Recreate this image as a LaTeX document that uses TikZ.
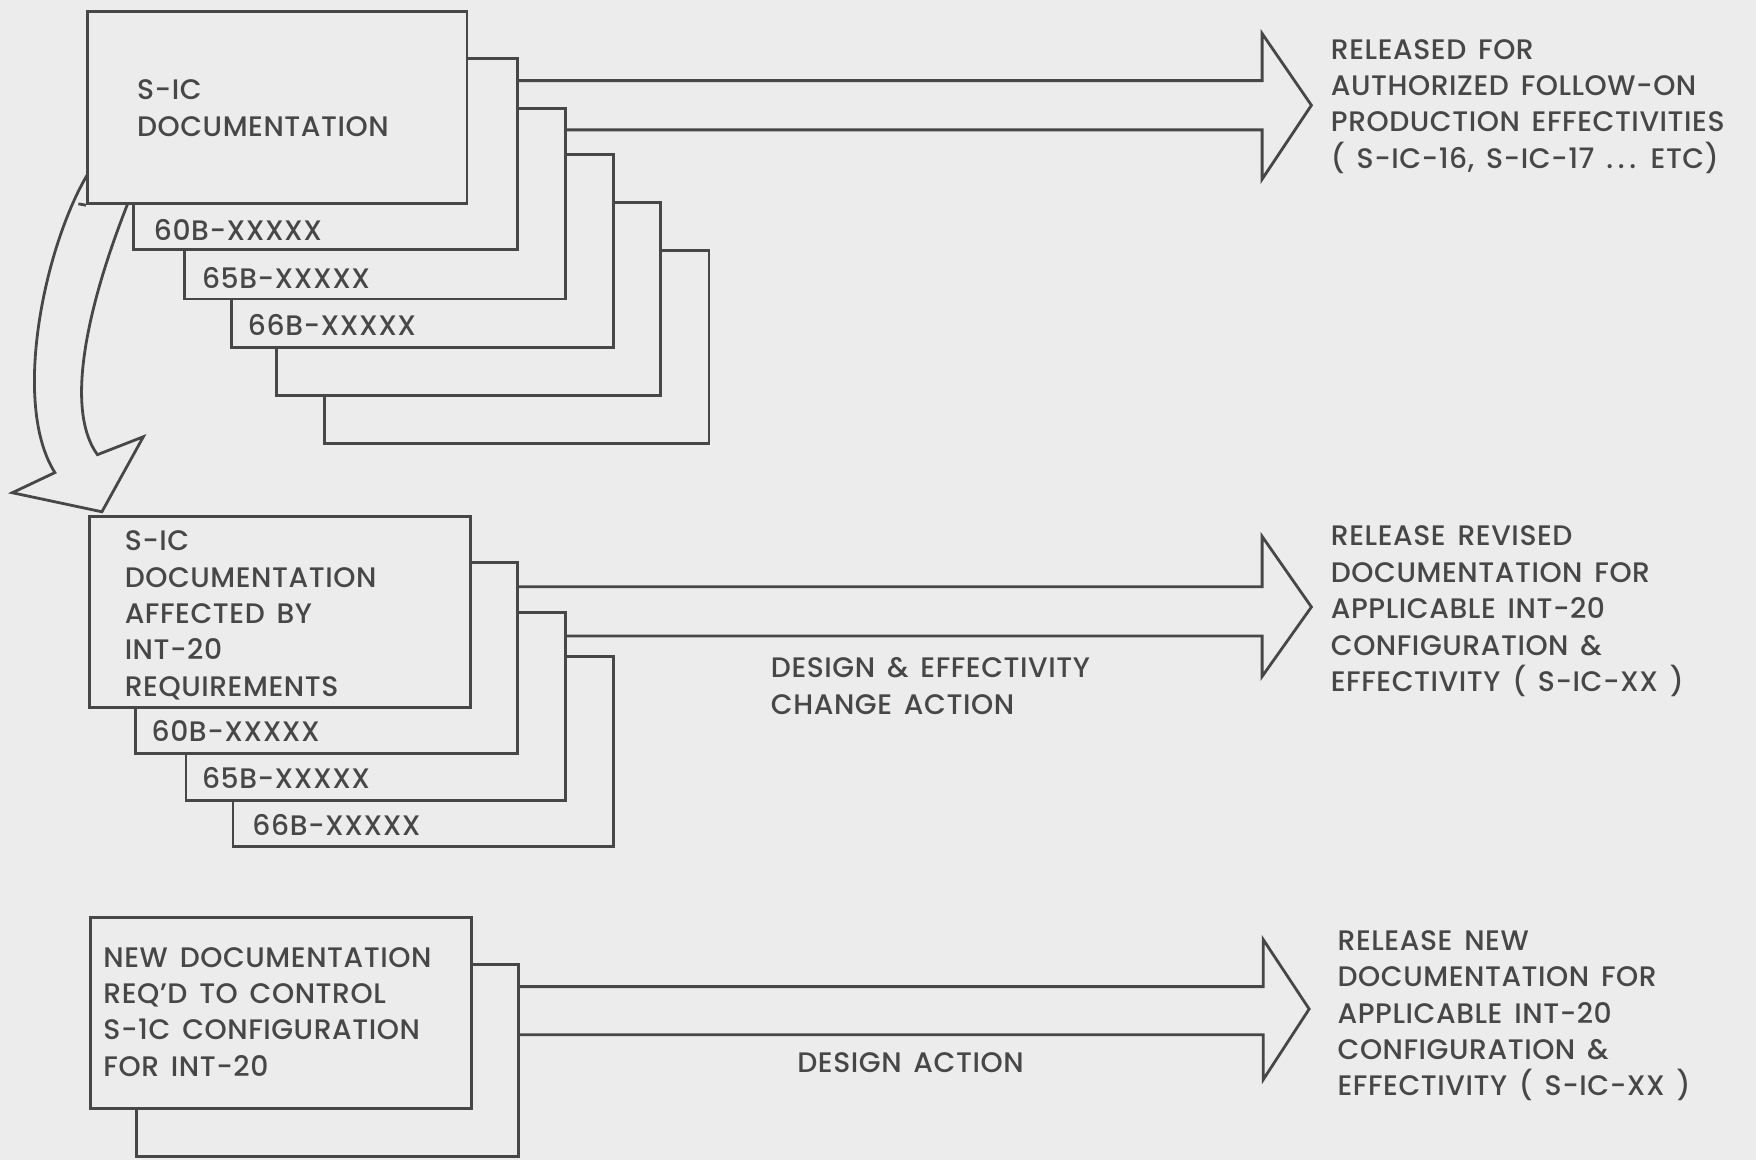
\documentclass[tikz,border=0pt]{standalone}
\usepackage{fontspec}
\setmainfont{Poppins}[UprightFont={* Medium}, LetterSpace=2, WordSpace=1.5]
\usetikzlibrary{fit}
\definecolor{paper}{HTML}{ECECEC}
\definecolor{ink}{HTML}{474747}
\newcommand\lettering{\fontsize{12.6}{16.25}\selectfont}
\begin{document}
\begin{tikzpicture}[x=0.5pt,y=-0.5pt,
  sheet/.style={draw=ink, fill=paper, line width=1.25pt, inner sep=0pt, rectangle},
  outline/.style={draw=ink, line width=1.25pt, line join=miter},
  lbl/.style={text=ink, inner sep=0pt, anchor=west, font=\lettering},
  blk/.style={lbl, align=left},
]
\fill[paper] (0,0) rectangle (1568,1036);
\useasboundingbox (0,0) rectangle (1568,1036);

% ---- existing S-IC documentation: stack of sheets ----
\node[sheet, fit={(290,224) (633,396)}] (t6) {};
\node[sheet, fit={(247,181) (590,353)}] (t5) {};
\node[sheet, fit={(207,138) (548,310)}] (t4) {};
\node[sheet, fit={(165,97) (505,267)}] (t3) {};
\node[sheet, fit={(119,52) (462,223)}] (t2) {};
\node[sheet, fit={(78,10) (417,182)}] (t1) {};
\node[blk] (t1l) at (122,96.5) {S-IC\\DOCUMENTATION};
\node[lbl] (t2l) at (137,205) {60B-XXXXX};
\node[lbl] (t3l) at (180,248) {65B-XXXXX};
\node[lbl] (t4l) at (221,290) {66B-XXXXX};

% release arrow
\draw[outline] (t2.east |- 0,72) -- (1127,72) -- (1127,30) -- (1171,94)
  -- (1127,160) -- (1127,116) -- (t3.east |- 0,116);
\node[blk] (r1) at (1188,95) {RELEASED FOR\\AUTHORIZED FOLLOW-ON\\PRODUCTION EFFECTIVITIES\\( S-IC-16, S-IC-17 {.}\,{.}\,{.} ETC)};

% curved hollow arrow down to the affected documentation
\draw[outline] (78,156) .. controls (40,220) and (10,360) .. (49,422)
  -- (11,440) -- (91,457) -- (128,390) -- (87,406)
  .. controls (50,355) and (95,230) .. (114,182);
\draw[outline] (70,182) -- (t1.south west);

% ---- documentation affected by INT-20 ----
\node[sheet, fit={(208,586) (548,756)}] (m4) {};
\node[sheet, fit={(166,547) (505,715)}] (m3) {};
\node[sheet, fit={(121,502) (462,673)}] (m2) {};
\node[sheet, fit={(80,461) (420,632)}] (m1) {};
\node[blk] (m1l) at (111,549.5) {S-IC\\DOCUMENTATION\\AFFECTED BY\\INT-20\\REQUIREMENTS};
\node[lbl] (m2l) at (135,653) {60B-XXXXX};
\node[lbl] (m3l) at (180,695) {65B-XXXXX};
\node[lbl] (m4l) at (225,737) {66B-XXXXX};

\draw[outline] (m2.east |- 0,524) -- (1127,524) -- (1127,479) -- (1171,542)
  -- (1127,604) -- (1127,568) -- (m3.east |- 0,568);
\node[blk] (ma) at (688,612.5) {DESIGN \& EFFECTIVITY\\CHANGE ACTION};
\node[blk] (r2) at (1188,546) {RELEASE REVISED\\DOCUMENTATION FOR\\APPLICABLE INT-20\\CONFIGURATION \&\\EFFECTIVITY ( S-IC-XX )};

% ---- new documentation ----
\node[sheet, fit={(122,861) (463,1033)}] (b2) {};
\node[sheet, fit={(81,819) (421,990)}] (b1) {};
\node[blk] (b1l) at (92,903.5) {NEW DOCUMENTATION\\REQ'D TO CONTROL\\S-1C CONFIGURATION\\FOR INT-20};

\draw[outline] (b2.east |- 0,881) -- (1128,881) -- (1128,839) -- (1169,901)
  -- (1128,964) -- (1128,924) -- (b2.east |- 0,924);
\node[lbl, anchor=center] (ba) at (813,949) {DESIGN ACTION};
\node[blk] (r3) at (1194,907) {RELEASE NEW\\DOCUMENTATION FOR\\APPLICABLE INT-20\\CONFIGURATION \&\\EFFECTIVITY ( S-IC-XX )};
\end{tikzpicture}
\end{document}
